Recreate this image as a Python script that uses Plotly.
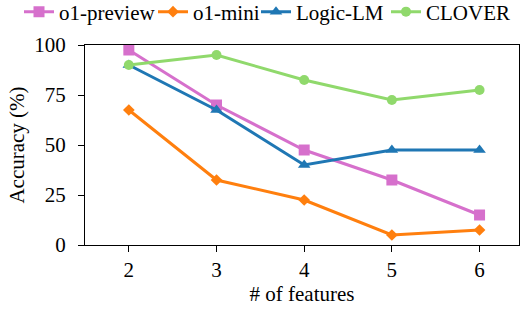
import plotly.graph_objects as go

features = [2, 3, 4, 5, 6]
o1_preview = [97.5, 70, 47.5, 32.5, 15]
o1_mini = [67.5, 32.5, 22.5, 5, 7.5]
logic_lm = [90, 67.5, 40, 47.5, 47.5]
clover = [90, 95, 82.5, 72.5, 77.5]
y_ticks = [0, 25, 50, 75, 100]

series = [
    ("o1-preview", o1_preview, "#D670CC", "square", 11),
    ("o1-mini", o1_mini, "#FF7F0E", "diamond", 9),
    ("Logic-LM", logic_lm, "#1F77B4", "triangle-up", 11),
    ("CLOVER", clover, "#90D96C", "circle", 10),
]
legend_ids = ["legend", "legend2", "legend3", "legend4"]
legend_x_px = [19, 153, 256, 386]

W, H = 522, 311
font = dict(family="Liberation Serif", size=21, color="black")

fig = go.Figure()
for (name, vals, color, sym, size), lid in zip(series, legend_ids):
    fig.add_trace(go.Scatter(
        x=features, y=vals, name=name, mode="lines+markers",
        line=dict(color=color, width=3),
        marker=dict(symbol=sym, size=size, color=color),
        legend=lid,
    ))

layout_legends = {}
for lid, px in zip(legend_ids, legend_x_px):
    layout_legends[lid] = dict(
        orientation="h", x=px / W, xanchor="left", xref="container",
        y=1 - 12 / H, yanchor="middle", yref="container",
        font=font, itemwidth=30, bgcolor="rgba(0,0,0,0)",
    )

fig.update_layout(
    width=W, height=H,
    margin=dict(l=85, r=3, t=45, b=66, autoexpand=False),
    paper_bgcolor="white", plot_bgcolor="white",
    font=font,
    showlegend=True,
    **layout_legends,
)
fig.update_xaxes(
    range=[1.5, 6.45], tickvals=features, ticks="outside", ticklen=6, tickcolor="black",
    showline=True, linecolor="black", linewidth=1, mirror=True, showgrid=False,
    zeroline=False, title=dict(text="# of features", font=font, standoff=5),
)
fig.update_yaxes(
    range=[0, 100], tickvals=y_ticks, ticks="outside", ticklen=6, tickcolor="black",
    ticklabelstandoff=8,
    showline=True, linecolor="black", linewidth=1, mirror=True, showgrid=False,
    zeroline=False, title=dict(text="Accuracy (%)", font=font, standoff=3),
)
fig.write_html("out.html", post_script="document.body.style.margin='0';",
               config={"displayModeBar": False})
